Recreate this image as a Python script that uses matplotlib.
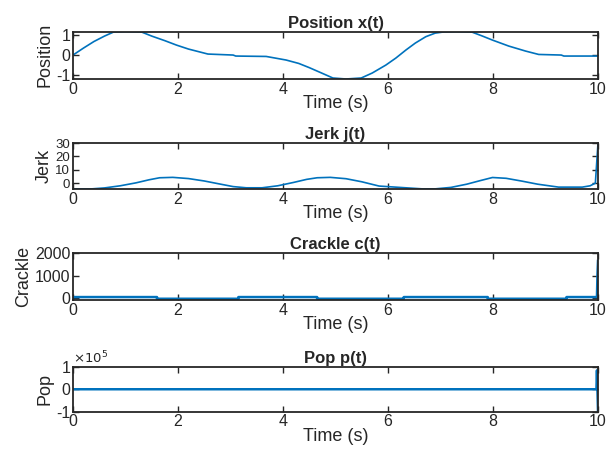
import matplotlib
matplotlib.use("Agg")
import matplotlib.pyplot as plt

plt.rcParams['font.family'] = ['Liberation Sans', 'DejaVu Sans']

# Position x(t)
pos_t = [0.0, 0.2, 0.4, 0.6, 0.77, 1.0, 1.31, 1.5, 1.75, 1.97, 2.2, 2.57, 3.05, 3.1,
         3.68, 4.06, 4.3, 4.5, 4.7, 4.89, 4.95, 5.2, 5.49, 5.7, 5.96, 6.15, 6.34, 6.52,
         6.72, 6.9, 7.04, 7.3, 7.6, 7.8, 7.99, 8.3, 8.62, 8.87, 9.3, 9.35, 10.0]
pos_x = [0.0, 0.35, 0.68, 0.95, 1.15, 1.17, 1.15, 0.95, 0.72, 0.5, 0.3, 0.05, 0.0, -0.05,
         -0.07, -0.25, -0.42, -0.63, -0.86, -1.08, -1.15, -1.2, -1.15, -0.9, -0.5, -0.15, 0.25, 0.6,
         0.92, 1.1, 1.15, 1.17, 1.15, 0.95, 0.75, 0.45, 0.2, 0.03, 0.0, -0.05, -0.05]

# Jerk j(t)
jerk_t = [0.0, 0.36, 0.6, 0.9, 1.2, 1.45, 1.65, 1.9, 2.2, 2.5, 2.8, 3.05, 3.3, 3.6,
          3.9, 4.2, 4.45, 4.65, 4.9, 5.2, 5.5, 5.83, 6.65, 6.9, 7.2, 7.5, 7.75, 7.99,
          8.25, 8.55, 8.85, 9.25, 9.7, 9.85, 9.95, 10.0]
jerk_j = [-4.3, -4.3, -3.6, -2.0, 0.2, 2.5, 4.0, 4.3, 3.4, 1.6, -0.7, -2.6, -3.5, -3.5,
          -2.0, 0.5, 2.8, 4.0, 4.3, 3.3, 1.0, -2.2, -4.3, -4.3, -3.2, -0.8, 1.8, 4.2,
          3.6, 1.5, -0.8, -3.0, -3.0, -2.0, 0.0, 30.0]

# Crackle c(t)
crk_t = [0.0, 1.6, 1.6, 3.15, 3.15, 4.65, 4.65, 6.3, 6.3, 7.9, 7.9, 9.4, 9.4, 9.98, 9.99, 10.0]
crk_c = [50, 50, -25, -25, 50, 50, -25, -25, 50, 50, -25, -25, 50, 50, 1050, 1650]

# Pop p(t)
pop_t = [0.0, 9.97, 9.98, 10.0]
pop_p = [0.0, 0.0, 85000.0, -100000.0]

titles = ['Position x(t)', 'Jerk j(t)', 'Crackle c(t)', 'Pop p(t)']
ylabels = ['Position', 'Jerk', 'Crackle', 'Pop']
xticks = [0, 2, 4, 6, 8, 10]

W, H = 616, 450
fig = plt.figure(figsize=(W / 100, H / 100), dpi=100)
boxes = [(31.7, 79), (143, 189), (253, 300), (367, 411.5)]
left, right = 73, 598

series = [(pos_t, pos_x), (jerk_t, jerk_j), (crk_t, crk_c), (pop_t, pop_p)]
ylims = [(-1.2, 1.17), (-4.4, 30), (-80, 2000), (-100000, 100000)]
yticks = [[-1, 0, 1], [0, 10, 20, 30], [0, 1000, 2000], [-100000, 0, 100000]]
yticklabels = [['-1', '0', '1'], ['0', '10', '20', '30'], ['0', '1000', '2000'], ['-1', '0', '1']]
ylabsize = [11.5, 9.5, 11.5, 11.5]

blue = '#0072BD'
dark = '#262626'
for i, ((tt, vv), (top, bot)) in enumerate(zip(series, boxes)):
    ax = fig.add_axes([left / W, (H - bot) / H, (right - left) / W, (bot - top) / H])
    ax.plot(tt, vv, color=blue, lw=1.2 if i < 2 else 1.8)
    ax.set_xlim(0, 10)
    ax.set_ylim(*ylims[i])
    ax.set_xticks(xticks)
    ax.set_yticks(yticks[i])
    ax.set_yticklabels(yticklabels[i])
    ax.tick_params(direction='in', top=True, right=True, length=4, width=1,
                   labelsize=11.5, pad=2, colors=dark, labelcolor=dark)
    ax.tick_params(axis='y', labelsize=ylabsize[i])
    for s in ax.spines.values():
        s.set_linewidth(1.3)
        s.set_color(dark)
    ax.set_title(titles[i], fontsize=12, fontweight='bold', pad=3, color=dark)
    ax.set_ylabel(ylabels[i], fontsize=13, labelpad=2, color=dark)
    ax.set_xlabel('Time (s)', fontsize=13, labelpad=-1, color=dark)
    if i == 3:
        ax.text(0.0, 1.02, r'$\times 10^5$', transform=ax.transAxes, fontsize=9.5,
                ha='left', va='bottom', color=dark)

fig.savefig('out.png', dpi=100)
